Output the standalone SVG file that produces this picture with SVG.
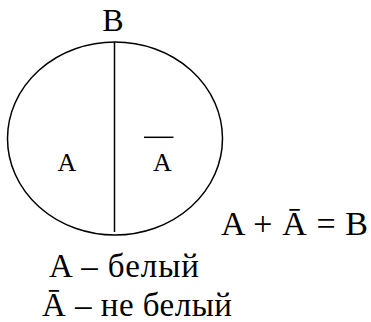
<svg xmlns="http://www.w3.org/2000/svg" width="371" height="322" viewBox="0 0 371 322">
<defs>
<style>
text{font-family:"Liberation Serif","Times New Roman",serif;fill:#000}
.ln{stroke:#000;stroke-width:1.5;fill:none}
.lg{font-size:33px}
</style>
</defs>
<rect width="371" height="322" fill="#fff"/>
<g id="set-B">
<ellipse class="ln" cx="115" cy="138.5" rx="107.5" ry="96.5"/>
<text x="113" y="30.5" font-size="32" text-anchor="middle">B</text>
</g>
<g id="connectors">
<line class="ln" x1="114.5" y1="42" x2="114.5" y2="232"/>
</g>
<g id="region-A">
<text x="67" y="171" font-size="26" text-anchor="middle">A</text>
</g>
<g id="region-notA">
<line class="ln" x1="144" y1="137.3" x2="173.5" y2="137.3"/>
<text x="162.5" y="170.5" font-size="26" text-anchor="middle">A</text>
</g>
<g id="formula">
<text x="221" y="235" font-size="34" textLength="147" lengthAdjust="spacing">A + Ā = B</text>
</g>
<g id="legend">
<text class="lg" x="49" y="277" textLength="150" lengthAdjust="spacing">A – белый</text>
<text class="lg" x="42" y="316" textLength="190" lengthAdjust="spacing">Ā – не белый</text>
</g>
</svg>
